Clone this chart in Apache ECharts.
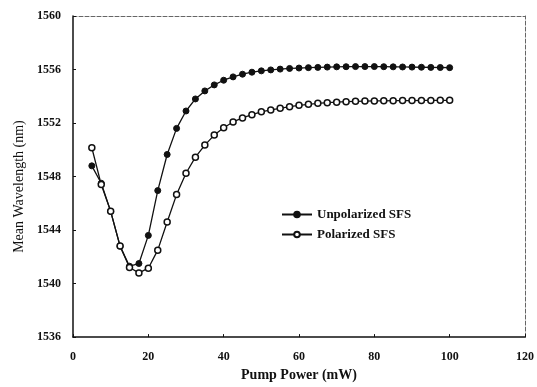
<!DOCTYPE html>
<html>
<head>
<meta charset="utf-8">
<script src="https://cdn.jsdelivr.net/npm/echarts@6/dist/echarts.min.js"></script>
<style>
  html, body { margin: 0; padding: 0; background: #fff; }
  #chart { width: 537px; height: 387px; }
</style>
</head>
<body>
<div id="chart"></div>
<script>
// pump power (mW), 5 to 100 in 2.5 steps
const pumpPower = [5, 7.5, 10, 12.5, 15, 17.5, 20, 22.5, 25, 27.5, 30, 32.5, 35, 37.5, 40,
  42.5, 45, 47.5, 50, 52.5, 55, 57.5, 60, 62.5, 65, 67.5, 70, 72.5, 75, 77.5, 80,
  82.5, 85, 87.5, 90, 92.5, 95, 97.5, 100]

// mean wavelength (nm)
const unpolarized = [1548.8, 1547.5, 1545.4, 1542.8, 1541.3, 1541.5, 1543.6, 1546.95, 1549.65, 1551.6,
  1552.9, 1553.8, 1554.4, 1554.85, 1555.2, 1555.45, 1555.65, 1555.8, 1555.9, 1555.97,
  1556.03, 1556.08, 1556.11, 1556.14, 1556.16, 1556.18, 1556.2, 1556.21, 1556.22, 1556.22, 1556.22,
  1556.21, 1556.2, 1556.19, 1556.18, 1556.17, 1556.16, 1556.15, 1556.14]

const polarized = [1550.15, 1547.4, 1545.4, 1542.8, 1541.2, 1540.8, 1541.15, 1542.5, 1544.6, 1546.65,
  1548.25, 1549.45, 1550.35, 1551.1, 1551.65, 1552.08, 1552.38, 1552.62, 1552.84, 1552.98,
  1553.1, 1553.22, 1553.32, 1553.4, 1553.47, 1553.52, 1553.56, 1553.6, 1553.62, 1553.64, 1553.65,
  1553.66, 1553.67, 1553.68, 1553.68, 1553.69, 1553.69, 1553.7, 1553.7]

const seriesNames = ['Unpolarized SFS', 'Polarized SFS']

const serif = '"Liberation Serif", "DejaVu Serif", serif'
const chart = echarts.init(document.getElementById('chart'), null, { renderer: 'canvas' })

const pairs = (ys) => pumpPower.map((x, i) => [x, ys[i]])

chart.setOption({
  animation: false,
  backgroundColor: '#fff',
  grid: { left: 73, right: 11, top: 16, bottom: 46 },
  legend: {
    orient: 'vertical',
    left: 276,
    top: 203,
    itemWidth: 30,
    itemHeight: 7,
    itemGap: 7,
    data: seriesNames,
    textStyle: { fontFamily: serif, fontSize: 13, fontWeight: 'bold', color: '#111' },
  },
  xAxis: [
    {
      type: 'value',
      min: 0, max: 120, interval: 20,
      name: 'Pump Power (mW)',
      nameLocation: 'middle',
      nameGap: 27,
      nameTextStyle: { fontFamily: serif, fontSize: 14, fontWeight: 'bold', color: '#111' },
      axisLine: { onZero: false, lineStyle: { color: '#111', width: 1.5 } },
      axisTick: { inside: true, length: 3, lineStyle: { color: '#111' } },
      axisLabel: { fontFamily: serif, fontSize: 12, fontWeight: 'bold', color: '#111', margin: 14 },
      splitLine: { show: false },
    },
    {
      type: 'value', position: 'top',
      min: 0, max: 120,
      axisLine: { show: true, onZero: false, lineStyle: { color: '#666', type: 'dashed', width: 1 } },
      axisTick: { show: false }, axisLabel: { show: false }, splitLine: { show: false },
    },
  ],
  yAxis: [
    {
      type: 'value',
      min: 1536, max: 1560, interval: 4,
      name: 'Mean Wavelength (nm)',
      nameLocation: 'middle',
      nameGap: 46,
      nameTextStyle: { fontFamily: serif, fontSize: 14, color: '#111', padding: [0, 0, 0, -20] },
      axisLine: { show: true, onZero: false, lineStyle: { color: '#111', width: 1.5 } },
      axisTick: { inside: true, length: 3, lineStyle: { color: '#111' } },
      axisLabel: {
        fontFamily: serif, fontSize: 12, fontWeight: 'bold', color: '#111', margin: 12,
        formatter: (v) => String(v),
      },
      splitLine: { show: false },
    },
    {
      type: 'value', position: 'right',
      min: 1536, max: 1560,
      axisLine: { show: true, onZero: false, lineStyle: { color: '#666', type: 'dashed', width: 1 } },
      axisTick: { show: false }, axisLabel: { show: false }, splitLine: { show: false },
    },
  ],
  series: [
    {
      name: seriesNames[0],
      type: 'line',
      data: pairs(unpolarized),
      symbol: 'circle',
      symbolSize: 6,
      lineStyle: { color: '#111', width: 1.3 },
      itemStyle: { color: '#111', borderColor: '#111', borderWidth: 1 },
    },
    {
      name: seriesNames[1],
      type: 'line',
      data: pairs(polarized),
      symbol: 'circle',
      symbolSize: 6,
      lineStyle: { color: '#111', width: 1.3 },
      itemStyle: { color: '#fff', borderColor: '#111', borderWidth: 1.5 },
    },
  ],
})
</script>
</body>
</html>
